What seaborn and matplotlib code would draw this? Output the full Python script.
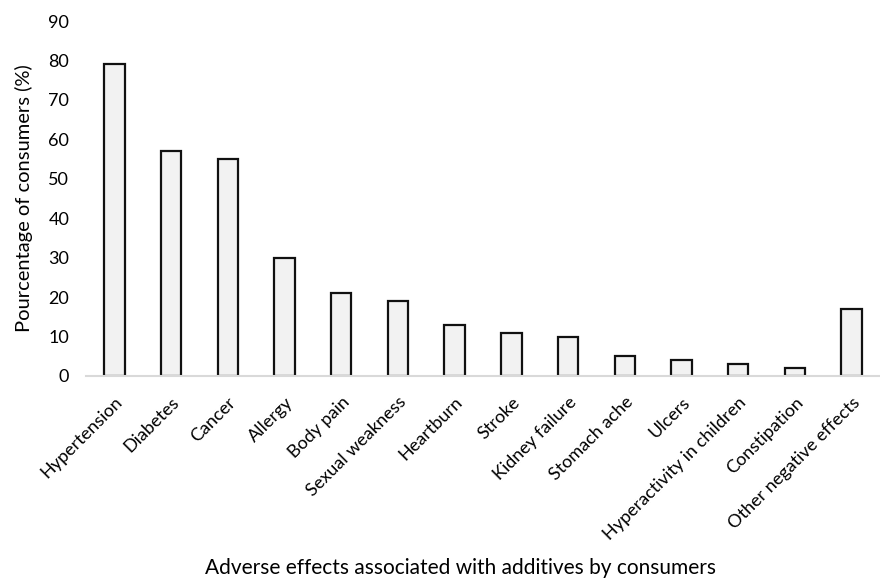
import matplotlib
matplotlib.use("Agg")
import matplotlib.pyplot as plt
import seaborn as sns
import pandas as pd

categories = ["Hypertension", "Diabetes", "Cancer", "Allergy", "Body pain",
              "Sexual weakness", "Heartburn", "Stroke", "Kidney failure",
              "Stomach ache", "Ulcers", "Hyperactivity in children",
              "Constipation", "Other negative effects"]
values = [79, 57, 55, 30, 21, 19, 13, 11, 10, 5, 4, 3, 2, 17]
yticks = [0, 10, 20, 30, 40, 50, 60, 70, 80, 90]

sns.set_theme(style="white")
plt.rcParams['font.family'] = ['Lato', 'DejaVu Sans']

df = pd.DataFrame({"cat": categories, "val": values})

fig = plt.figure(figsize=(8.8, 5.83), dpi=100)
ax = fig.add_axes([86/880, 1-376/583, (880-86)/880, (376-21)/583])
sns.barplot(data=df, x="cat", y="val", ax=ax, color="#f2f2f2",
            edgecolor="#111111", linewidth=1.6, width=0.36, saturation=1)
ax.set_ylim(0, 90)
ax.set_xlim(-0.5, len(categories) - 0.5)
ax.set_yticks(yticks)
ax.set_yticklabels([str(t) for t in yticks], fontsize=13, color="#000000")
ax.tick_params(axis="y", length=0, pad=12)
ax.tick_params(axis="x", length=0, pad=13)
ax.set_xticks(range(len(categories)))
ax.set_xticklabels(categories, rotation=45, ha="right", rotation_mode="anchor",
                   fontsize=13, color="#000000")
for s in ["top", "right", "left"]:
    ax.spines[s].set_visible(False)
ax.spines["bottom"].set_color("#d9d9d9")
ax.spines["bottom"].set_linewidth(1.5)
ax.set_xlabel("")
ax.set_ylabel("Pourcentage of consumers (%)", fontsize=14.5, color="#000000", labelpad=11)
fig.text(460/880, 1-568/583, "Adverse effects associated with additives by consumers",
         ha="center", va="center", fontsize=15, color="#000000")
fig.savefig("out.png", dpi=100)
